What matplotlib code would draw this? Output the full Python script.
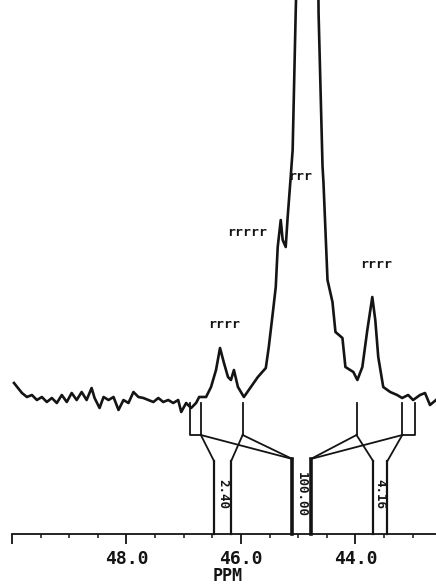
import numpy as np
import matplotlib
matplotlib.use("Agg")
import matplotlib.pyplot as plt
from matplotlib.ticker import MultipleLocator

# spectrum trace (ppm, intensity above baseline axis)
spec_ppm = [49.965, 49.826, 49.739, 49.652, 49.565, 49.478, 49.391, 49.304, 49.217, 49.130,
            49.043, 48.957, 48.870, 48.783, 48.696, 48.609, 48.557, 48.470, 48.400, 48.313,
            48.226, 48.139, 48.052, 47.965, 47.878, 47.791, 47.704, 47.617, 47.530, 47.443,
            47.357, 47.270, 47.183, 47.096, 47.043, 46.957, 46.870, 46.783, 46.730, 46.609,
            46.522, 46.435, 46.365, 46.296, 46.226, 46.174, 46.122, 46.052, 45.948, 45.826,
            45.704, 45.565, 45.513, 45.443, 45.391, 45.357, 45.304, 45.270, 45.217, 45.183,
            45.130, 45.096, 45.043, 44.991, 44.835, 44.661, 44.643, 44.574, 44.557, 44.487,
            44.400, 44.348, 44.226, 44.174, 44.035, 43.965, 43.878, 43.791, 43.704, 43.652,
            43.600, 43.513, 43.391, 43.270, 43.183, 43.078, 42.991, 42.870, 42.783, 42.696,
            42.591]
spec_int = [151, 141, 137, 139, 134, 137, 132, 136, 131, 139,
            132, 141, 134, 142, 134, 146, 136, 126, 137, 134,
            137, 124, 134, 131, 142, 137, 136, 134, 132, 136,
            132, 134, 131, 134, 122, 131, 126, 131, 137, 137,
            147, 164, 186, 171, 157, 154, 164, 147, 137, 147,
            157, 166, 187, 221, 247, 287, 314, 294, 287, 317,
            357, 384, 521, 634, 784, 634, 521, 368, 351, 254,
            232, 202, 196, 167, 162, 154, 167, 204, 237, 214,
            177, 147, 142, 139, 136, 139, 134, 139, 141, 129,
            134]

# integral regions and values
int_lo = [46.47, 45.10, 43.69]
int_hi = [46.17, 44.78, 43.44]
int_labels = ["2.40", "100.00", "4.16"]

# peak assignments
peak_labels = ["rrrr", "rrrrr", "rrr", "rrrr"]
peak_ppm = [46.30, 45.90, 44.96, 43.63]
peak_int = [210, 302, 358, 270]

ink = "#141414"
mono = "DejaVu Sans Mono"

fig = plt.figure(figsize=(4.36, 5.86), dpi=100)
ax = fig.add_axes([12 / 436, 0, 424 / 436, 1])
ax.set_xlim(49.965, 42.591)
ax.set_ylim(-52, 534)

ax.plot(spec_ppm, spec_int, color=ink, lw=1.9, solid_joinstyle="round")

# integral markers
lw_i = 1.3
top, brk, vee = 131, 99, 73
# left group
ax.plot([46.89, 46.89, 46.70, 46.70], [top, brk, brk, top], color=ink, lw=lw_i)
ax.plot([45.97, 45.97], [top, brk], color=ink, lw=lw_i)
ax.plot([46.70, int_lo[0]], [brk, vee], color=ink, lw=lw_i)
ax.plot([45.97, int_hi[0]], [brk, vee], color=ink, lw=lw_i)
ax.plot([46.70, int_lo[1]], [brk, vee + 2], color=ink, lw=lw_i)
ax.plot([45.97, int_lo[1]], [brk, vee + 2], color=ink, lw=lw_i)
# right group
ax.plot([43.18, 43.18, 42.96, 42.96], [top, brk, brk, top], color=ink, lw=lw_i)
ax.plot([43.98, 43.98], [top, brk], color=ink, lw=lw_i)
ax.plot([43.98, int_lo[2]], [brk, vee], color=ink, lw=lw_i)
ax.plot([43.18, int_hi[2]], [brk, vee], color=ink, lw=lw_i)
ax.plot([43.98, int_hi[1]], [brk, vee + 2], color=ink, lw=lw_i)
ax.plot([43.18, int_hi[1]], [brk, vee + 2], color=ink, lw=lw_i)

for i, (lo, hi, lab) in enumerate(zip(int_lo, int_hi, int_labels)):
    h = vee + 2 if i == 1 else vee
    w = 2.6 if i == 1 else 1.6
    ax.plot([lo, lo], [0, h], color=ink, lw=w)
    ax.plot([hi, hi], [0, h], color=ink, lw=w)
    ax.text((lo + hi) / 2, 40, lab, rotation=270, ha="center", va="center",
            fontsize=9, family=mono, fontweight="bold", color=ink)

for lab, x, y in zip(peak_labels, peak_ppm, peak_int):
    ax.text(x, y, lab, ha="center", va="center", fontsize=9.5,
            family=mono, fontweight="bold", color=ink)

# axis
for s in ["top", "left", "right"]:
    ax.spines[s].set_visible(False)
ax.spines["bottom"].set_position(("data", 0))
ax.spines["bottom"].set_color(ink)
ax.spines["bottom"].set_linewidth(1.3)
ax.set_yticks([])
ax.set_xticks([50, 48, 46, 44], labels=["", "48.0", "46.0", "44.0"])
ax.xaxis.set_minor_locator(MultipleLocator(0.5))
ax.tick_params(axis="x", which="major", direction="out", length=7.5, width=1.3,
               color=ink, pad=4, labelsize=13, labelcolor=ink)
ax.tick_params(axis="x", which="minor", direction="out", length=3, width=1.1, color=ink)
for t in ax.get_xticklabels():
    t.set_family(mono)
    t.set_fontweight("bold")
ax.text(46.24, -51, "PPM", ha="center", va="bottom", fontsize=12,
        family=mono, fontweight="bold", color=ink)

fig.savefig("out.png", dpi=100)
